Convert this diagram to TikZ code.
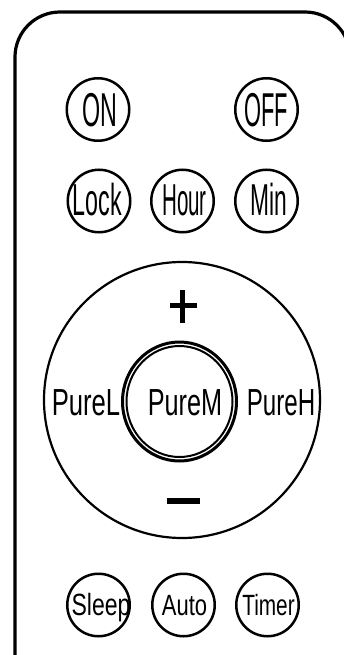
\documentclass[tikz,border=0pt]{standalone}
\usepackage{fontspec}
\setmainfont{Liberation Sans}
\usepackage{graphicx}
\newcommand{\btxt}[3]{{\fontsize{#1pt}{#1pt}\selectfont\scalebox{#2}[1]{#3}}}
\begin{document}
\begin{tikzpicture}[x=1pt,y=-1pt,
  btn/.style={circle, draw, line width=2.5pt, minimum size=62.5pt, inner sep=0pt},
  lbl/.style={anchor=base, inner sep=0pt}]
\useasboundingbox (0,0) rectangle (344,655);
% housing
\draw[line width=3.2pt, rounded corners=45pt] (15,720) -- (15,12) -- (350,12) -- (350,720);
% top buttons
\node[btn] (on) at (98,109.5) {};
\node[btn] (off) at (266.5,109.5) {};
\node[lbl] (ont) at (99.5,127) {\btxt{47.5}{0.49}{ON}};
\node[lbl] (offt) at (266,127) {\btxt{47.5}{0.46}{OFF}};
% second row
\node[btn] (lock) at (99,201) {};
\node[btn] (hour) at (182.5,201) {};
\node[btn] (min) at (266.5,201) {};
\node[lbl] (lockt) at (97.5,215) {\btxt{44.7}{0.52}{Lock}};
\node[lbl] (hourt) at (184.5,215) {\btxt{44.7}{0.46}{Hour}};
\node[lbl] (mint) at (268.5,215) {\btxt{44.7}{0.51}{Min}};
% ring
\node[circle, draw, line width=2.2pt, minimum size=276pt, inner sep=0pt] (ring) at (182,400) {};
\draw[line width=3pt] (179.5,401.5) ellipse[x radius=57, y radius=59.5];
\draw[line width=2pt] (179.5,401.5) ellipse[x radius=53, y radius=55.5];
\node[lbl] (pl) at (86,415) {\btxt{37.7}{0.68}{PureL}};
\node[lbl] (pm) at (185,415) {\btxt{37.7}{0.67}{PureM}};
\node[lbl] (ph) at (281,415) {\btxt{37.7}{0.64}{PureH}};
% plus and minus
\fill (170,303) rectangle (197,308);
\fill (180,290) rectangle (185,323);
\fill (167,497.5) rectangle (200,503.5);
% bottom row
\node[btn] (sleep) at (98.5,605) {};
\node[btn] (auto) at (183.5,605) {};
\node[btn] (timer) at (267.5,605) {};
\node[lbl] (sleept) at (101,615.5) {\btxt{30.7}{0.75}{Sleep}};
\node[lbl] (autot) at (184.5,615.5) {\btxt{29.3}{0.75}{Auto}};
\node[lbl] (timert) at (268.5,615.5) {\btxt{29.3}{0.71}{Timer}};
\end{tikzpicture}
\end{document}
